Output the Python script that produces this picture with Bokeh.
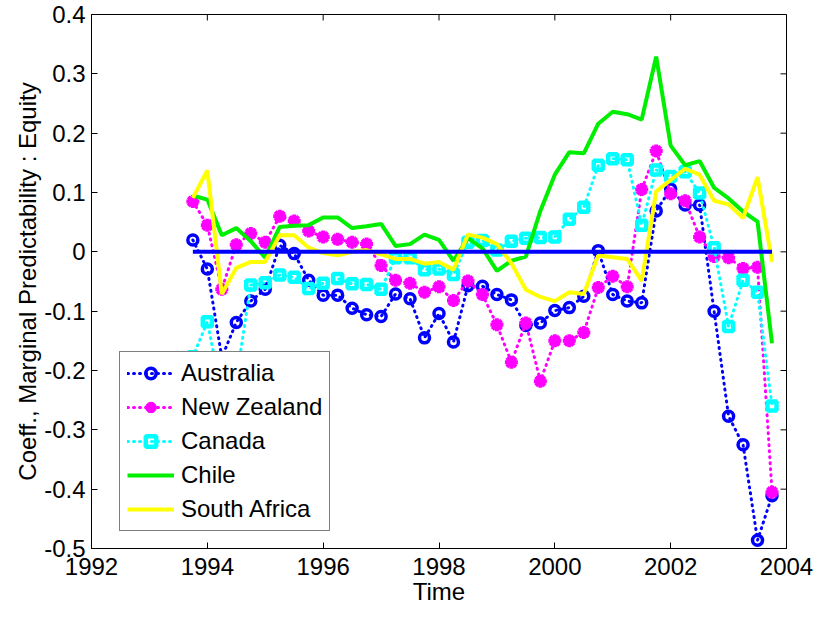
from bokeh.plotting import figure
from bokeh.models import FixedTicker, Legend, LegendItem, Range1d
from bokeh.embed import file_html
from bokeh.resources import INLINE

# ---------------- data ----------------
time = [1993.75, 1994.00, 1994.25, 1994.50, 1994.75, 1995.00, 1995.25, 1995.50,
        1995.75, 1996.00, 1996.25, 1996.50, 1996.75, 1997.00, 1997.25, 1997.50,
        1997.75, 1998.00, 1998.25, 1998.50, 1998.75, 1999.00, 1999.25, 1999.50,
        1999.75, 2000.00, 2000.25, 2000.50, 2000.75, 2001.00, 2001.25, 2001.50,
        2001.75, 2002.00, 2002.25, 2002.50, 2002.75, 2003.00, 2003.25, 2003.50,
        2003.75]

australia = [0.020, -0.029, -0.178, -0.119, -0.083, -0.063, 0.011, -0.003,
             -0.048, -0.073, -0.073, -0.095, -0.106, -0.109, -0.071, -0.079,
             -0.145, -0.104, -0.152, -0.057, -0.058, -0.072, -0.081, -0.124,
             -0.120, -0.099, -0.094, -0.075, 0.002, -0.072, -0.083, -0.086,
             0.069, 0.106, 0.079, 0.079, -0.100, -0.277, -0.325, -0.486,
             -0.411]

new_zealand = [0.085, 0.045, -0.063, 0.012, 0.031, 0.016, 0.060, 0.052,
               0.035, 0.025, 0.021, 0.016, 0.013, -0.023, -0.048, -0.053,
               -0.068, -0.059, -0.082, -0.049, -0.072, -0.123, -0.186, -0.120,
               -0.218, -0.150, -0.150, -0.136, -0.060, -0.041, -0.059, 0.105,
               0.170, 0.098, 0.086, 0.025, -0.008, -0.010, -0.028, -0.026,
               -0.405]

canada = [-0.177, -0.118, -0.240, -0.215, -0.056, -0.052, -0.039, -0.043,
          -0.062, -0.053, -0.045, -0.054, -0.055, -0.063, -0.010, -0.010,
          -0.030, -0.029, -0.038, 0.016, 0.019, 0.003, 0.018, 0.023,
          0.024, 0.025, 0.055, 0.075, 0.146, 0.157, 0.155, 0.045,
          0.138, 0.127, 0.135, 0.099, 0.007, -0.126, -0.048, -0.068,
          -0.260]

chile = [0.095, 0.088, 0.028, 0.040, 0.018, -0.010, 0.042, 0.044,
         0.045, 0.058, 0.058, 0.040, 0.043, 0.047, 0.010, 0.013,
         0.029, 0.020, -0.015, 0.023, 0.006, -0.032, -0.015, -0.008,
         0.069, 0.130, 0.168, 0.166, 0.216, 0.236, 0.232, 0.223,
         0.329, 0.179, 0.146, 0.153, 0.108, 0.090, 0.068, 0.051,
         -0.154]

south_africa = [0.091, 0.137, -0.071, -0.027, -0.017, -0.017, 0.028, 0.028,
                0.007, -0.002, -0.006, 0.000, 0.003, -0.004, -0.012, -0.012,
                -0.020, -0.017, -0.030, 0.029, 0.024, 0.013, -0.019, -0.064,
                -0.076, -0.083, -0.068, -0.071, -0.006, -0.009, -0.012, -0.049,
                0.102, 0.121, 0.140, 0.130, 0.086, 0.080, 0.057, 0.126,
                -0.017]

zero_line_x = [1993.75, 2003.75]
zero_line_y = [0.0, 0.0]

x_ticks = [1992, 1994, 1996, 1998, 2000, 2002, 2004]
y_ticks = [-0.5, -0.4, -0.3, -0.2, -0.1, 0.0, 0.1, 0.2, 0.3, 0.4]
y_tick_labels = ["-0.5", "-0.4", "-0.3", "-0.2", "-0.1", "0", "0.1", "0.2", "0.3", "0.4"]

series_names = ["Australia", "New Zealand", "Canada", "Chile", "South Africa"]
x_title = "Time"
y_title = "Coeff., Marginal Predictability : Equity"

# ---------------- figure ----------------
FONT = "Liberation Sans"
FS = "24px"
W, H = 815, 607
BL, BR, BT, BB = 91, 29, 14, 58
X0, X1, Y0, Y1 = 1992, 2004, -0.5, 0.4

p = figure(width=W, height=H, output_backend="svg", toolbar_location=None,
           x_range=Range1d(X0, X1), y_range=Range1d(Y0, Y1),
           min_border_left=BL, min_border_right=BR, min_border_top=BT,
           min_border_bottom=BB, x_axis_label=x_title, y_axis_label=y_title)
p.grid.visible = False
p.outline_line_color = "black"
p.outline_line_width = 1
p.background_fill_color = "white"
p.border_fill_color = "white"

p.xaxis.ticker = FixedTicker(ticks=x_ticks)
p.yaxis.ticker = FixedTicker(ticks=y_ticks)
p.yaxis.major_label_overrides = {t: s for t, s in zip(y_ticks, y_tick_labels)}
for ax in (p.xaxis[0], p.yaxis[0]):
    ax.axis_line_color = "black"
    ax.major_tick_line_color = "black"
    ax.major_tick_in = 6
    ax.major_tick_out = 0
    ax.minor_tick_in = 0
    ax.minor_tick_out = 0
    ax.major_label_text_font = FONT
    ax.major_label_text_font_size = FS
    ax.major_label_text_color = "black"
    ax.axis_label_text_font = FONT
    ax.axis_label_text_font_size = FS
    ax.axis_label_text_font_style = "normal"
    ax.axis_label_text_color = "black"
p.xaxis.major_label_standoff = 9
p.xaxis.axis_label_standoff = 0
p.yaxis.major_label_standoff = 6
p.yaxis.axis_label_standoff = 0

# inward ticks on the top and right edges of the box
frame_w = W - BL - BR
frame_h = H - BT - BB
tick_len = 6
dy = tick_len * (Y1 - Y0) / frame_h
dx = tick_len * (X1 - X0) / frame_w
p.segment(x0=x_ticks, y0=[Y1] * len(x_ticks), x1=x_ticks, y1=[Y1 - dy] * len(x_ticks),
          line_color="black", line_width=1)
p.segment(x0=[X1] * len(y_ticks), y0=y_ticks, x1=[X1 - dx] * len(y_ticks), y1=y_ticks,
          line_color="black", line_width=1)

BLUE = "#0000ff"
MAG = "#ff00ff"
CYAN = "#00ffff"
GREEN = "#00ee00"
YELLOW = "#ffff00"

# Australia
aus_l = p.line(time, australia, line_color=BLUE, line_width=3, line_dash="1 5", line_cap="round")
aus_m = p.scatter(time, australia, marker="circle", size=10, line_color=BLUE,
                  line_width=3.5, fill_color=None)
# New Zealand
nz_l = p.line(time, new_zealand, line_color=MAG, line_width=3, line_dash="1 5", line_cap="round")
nz_c = p.scatter(time, new_zealand, marker="circle", size=9, line_color=MAG,
                 fill_color=MAG, line_width=1)
nz_m = p.scatter(time, new_zealand, marker="asterisk", size=13, line_color=MAG,
                 line_width=4)
# Canada
ca_l = p.line(time, canada, line_color=CYAN, line_width=3, line_dash="1 5", line_cap="round")
ca_m = p.scatter(time, canada, marker="square", size=9, line_color=CYAN,
                 line_width=4.5, fill_color=None)
# Chile
ch_l = p.line(time, chile, line_color=GREEN, line_width=4)
# South Africa
sa_l = p.line(time, south_africa, line_color=YELLOW, line_width=4)
# zero line
p.line(zero_line_x, zero_line_y, line_color=BLUE, line_width=4)

legend = Legend(items=[
    LegendItem(label=series_names[0], renderers=[aus_l, aus_m]),
    LegendItem(label=series_names[1], renderers=[nz_l, nz_c, nz_m]),
    LegendItem(label=series_names[2], renderers=[ca_l, ca_m]),
    LegendItem(label=series_names[3], renderers=[ch_l]),
    LegendItem(label=series_names[4], renderers=[sa_l]),
], location=(28, 17), border_line_color="black", border_line_width=1.5,
   background_fill_color="white", background_fill_alpha=1.0,
   padding=7, margin=0, spacing=6, label_height=26, glyph_height=26,
   glyph_width=47, label_standoff=7, label_text_font=FONT,
   label_text_font_size=FS, label_text_color="black")
p.add_layout(legend, "center")

open("out.html", "w").write(file_html(p, INLINE))
